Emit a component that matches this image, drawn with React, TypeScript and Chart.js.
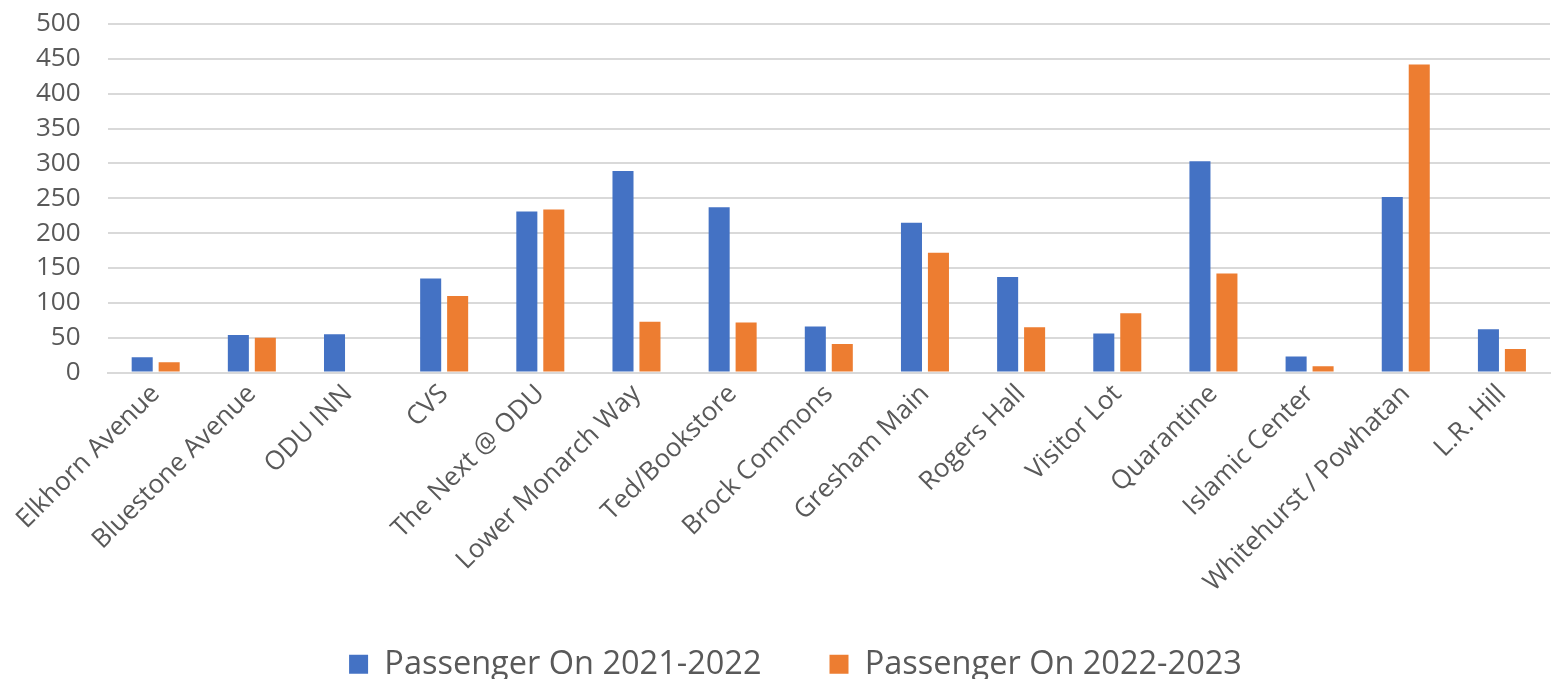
import React, { useEffect, useRef } from "react";
import { Chart, registerables } from "chart.js";

Chart.register(...registerables);

const categories = [
  "Elkhorn Avenue",
  "Bluestone Avenue",
  "ODU INN",
  "CVS",
  "The Next @ ODU",
  "Lower Monarch Way",
  "Ted/Bookstore",
  "Brock Commons",
  "Gresham Main",
  "Rogers Hall",
  "Visitor Lot",
  "Quarantine",
  "Islamic Center",
  "Whitehurst / Powhatan",
  "L.R. Hill",
];
const passengersOn2021_2022 = [22, 54, 55, 135, 231, 289, 237, 66, 215, 137, 56, 303, 23, 252, 62];
const passengersOn2022_2023 = [15, 50, null, 110, 234, 73, 72, 41, 172, 65, 85, 142, 9, 442, 34];
const seriesLabels = ["Passenger On 2021-2022", "Passenger On 2022-2023"];
const yMin = 0;
const yMax = 500;
const yStep = 50;

const FONT = "'Open Sans', 'DejaVu Sans', sans-serif";
const TEXT = "#595959";
const GRID = "#d9d9d9";
const LEGEND_HEIGHT = 75;
const LEGEND_LABEL_TOP = 44;
const LEGEND_SHIFT_X = 16;

const legendLayout = {
  id: "legendLayout",
  beforeInit(chart: any) {
    const legend = chart.legend;
    if (!legend) return;
    const fit = legend.fit;
    legend.fit = function () {
      fit.call(this);
      if (this.isHorizontal()) this.height = LEGEND_HEIGHT;
    };
    const draw = legend.draw;
    legend.draw = function () {
      const { top, height, left, right } = this;
      const shift = this.options.labels.padding - LEGEND_LABEL_TOP;
      this.top = top - shift;
      this.height = height + shift;
      this.left = left + LEGEND_SHIFT_X;
      this.right = right + LEGEND_SHIFT_X;
      draw.call(this);
      this.top = top;
      this.height = height;
      this.left = left;
      this.right = right;
    };
  },
};

export default function App() {
  const ref = useRef<HTMLCanvasElement | null>(null);
  useEffect(() => {
    if (!ref.current) return;
    const chart = new Chart(ref.current, {
      type: "bar",
      data: {
        labels: categories,
        datasets: [
          {
            label: seriesLabels[0],
            data: passengersOn2021_2022,
            backgroundColor: "#4472C4",
            borderWidth: 0,
            categoryPercentage: 0.561,
            barPercentage: 0.78,
          },
          {
            label: seriesLabels[1],
            data: passengersOn2022_2023,
            backgroundColor: "#ED7D31",
            borderWidth: 0,
            categoryPercentage: 0.561,
            barPercentage: 0.78,
          },
        ],
      },
      options: {
        animation: false,
        responsive: false,
        maintainAspectRatio: false,
        layout: { padding: { top: 24, left: 9, right: 13, bottom: 0 } },
        scales: {
          x: {
            grid: { display: false, drawTicks: false },
            border: { display: true, color: GRID, width: 2 },
            afterFit: (scale: any) => {
              scale.paddingLeft = 0;
              scale.paddingRight = 0;
            },
            ticks: {
              autoSkip: false,
              maxRotation: 45,
              minRotation: 45,
              padding: 6,
              color: TEXT,
              font: { family: FONT, size: 26 },
            },
          },
          y: {
            min: yMin,
            max: yMax,
            grid: { color: GRID, lineWidth: 2, drawTicks: false },
            border: { display: false },
            afterFit: (scale: any) => {
              scale.paddingTop = 0;
              scale.paddingBottom = 0;
            },
            ticks: {
              stepSize: yStep,
              autoSkip: false,
              padding: 27,
              color: TEXT,
              font: { family: FONT, size: 26 },
            },
          },
        },
        plugins: {
          legend: {
            position: "bottom",
            labels: {
              boxWidth: 19,
              boxHeight: 19,
              padding: 68,
              color: TEXT,
              font: { family: FONT, size: 32.5 },
            },
          },
          tooltip: { enabled: false },
        },
      },
      plugins: [legendLayout],
    });
    return () => chart.destroy();
  }, []);
  return (
    <div style={{ position: "absolute", left: 0, top: 0, width: 1563, height: 679, background: "#fff" }}>
      <canvas ref={ref} width={1563} height={679} style={{ width: 1563, height: 679, display: "block" }} />
    </div>
  );
}
